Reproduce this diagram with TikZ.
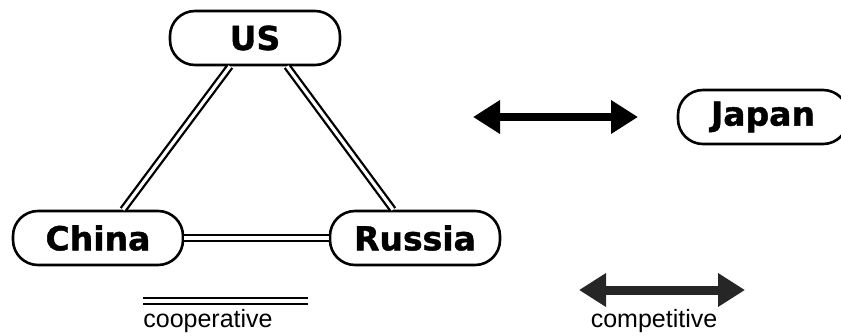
\documentclass[tikz,border=0pt]{standalone}
\usepackage{fontspec}
\setmainfont{Liberation Sans}
\newfontfamily\boxfont{DejaVu Sans}[BoldFeatures={FakeBold=1.3}]
\usetikzlibrary{arrows.meta}

\begin{document}
\begin{tikzpicture}[x=1pt, y=-1pt,
  country/.style={draw, line width=2.6pt, rounded corners=25pt,
    minimum width=170pt, minimum height=54pt, inner sep=0pt,
    font=\boxfont\bfseries\fontsize{33}{36}\selectfont},
  coop/.style={draw, line width=2.3pt, double=white, double distance=3.2pt},
  comp/.style={line width=8pt, {Triangle[length=27pt,width=32pt]}-{Triangle[length=27pt,width=32pt]}},
  legend/.style={font=\fontsize{25}{28}\selectfont, inner sep=0pt}]
\useasboundingbox (0,0) rectangle (841,335);
\clip (0,0) rectangle (841,335);
\node[country] (us) at (255,38) {US};
\node[country] (china) at (98,238) {China};
\node[country] (russia) at (415,238) {Russia};
\node[country] (japan) at (763,117) {Japan};
\draw[coop] ([xshift=-25pt]us.south) -- ([xshift=25pt]china.north);
\draw[coop] ([xshift=32pt]us.south) -- ([xshift=-22pt]russia.north);
\draw[coop] (china) -- (russia);
% competitive, between the triangle and Japan
\coordinate (t1) at (473,117);
\coordinate (t2) at (638,117);
\draw[comp] (t1) -- (t2);
% legend
\coordinate (l1) at (143,301);
\coordinate (l2) at (308,301);
\draw[coop] (l1) -- (l2);
\node[legend] (cooptext) at (208,321) {cooperative};
\coordinate (r1) at (579,290);
\coordinate (r2) at (745,290);
\draw[comp, line width=9pt, black!85] (r1) -- (r2);
\node[legend] (comptext) at (654,321) {competitive};
\end{tikzpicture}
\end{document}
